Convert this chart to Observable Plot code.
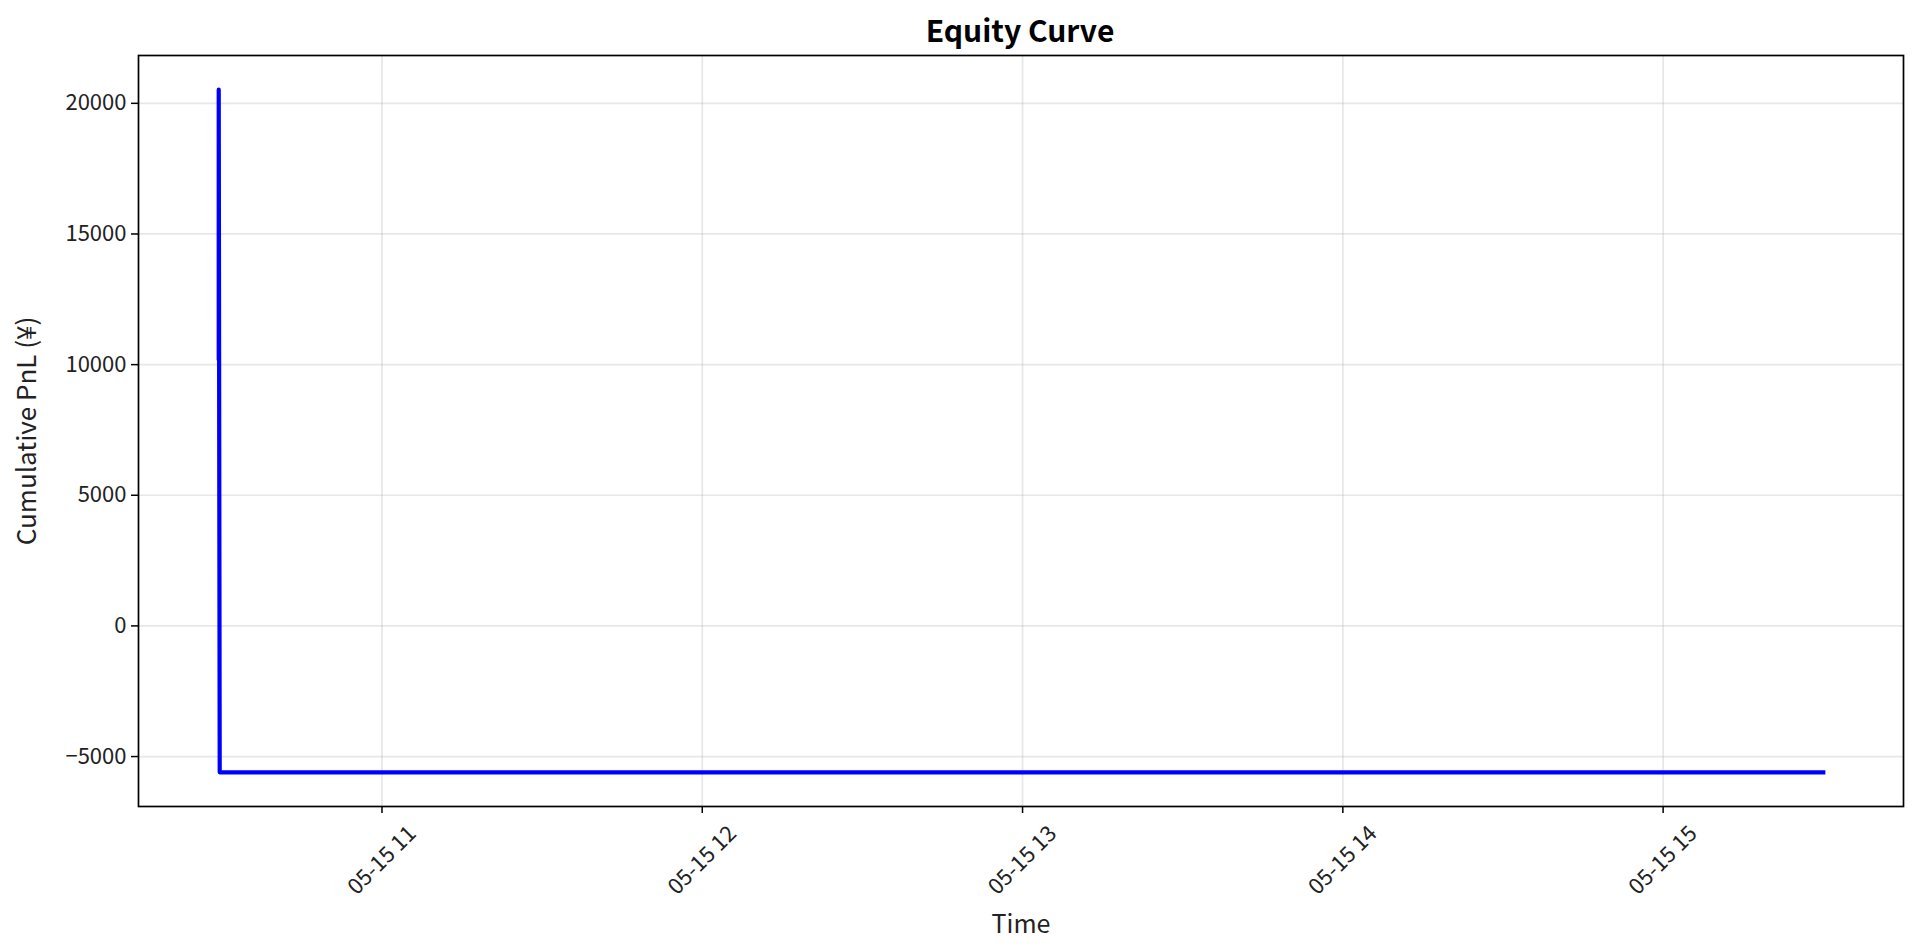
<!DOCTYPE html>
<html>
<head>
<meta charset="utf-8">
<script src="https://cdn.jsdelivr.net/npm/d3@7"></script>
<script src="https://cdn.jsdelivr.net/npm/@observablehq/plot@0.6"></script>
<style>
  html, body { margin: 0; padding: 0; background: #fff; }
  body { width: 1920px; height: 951px; overflow: hidden; font-family: "Noto Sans CJK JP", "Noto Sans", sans-serif; }
  #title { height: 50px; line-height: 58px; text-align: center; font-weight: bold; font-size: 30px; color: #000; padding-left: 120px; box-sizing: border-box; }
  #chart svg { display: block; }
</style>
</head>
<body>
<div id="title">Equity Curve</div>
<div id="chart"></div>
<script>
// Data
const times = [
  new Date(2024, 4, 15, 10, 29, 25),
  new Date(2024, 4, 15, 10, 29, 25),
  new Date(2024, 4, 15, 10, 29, 36),
  new Date(2024, 4, 15, 15, 30, 0)
];
const pnl = [10250, 20524, -5605, -5605];
const yTicks = [-5000, 0, 5000, 10000, 15000, 20000];
const xTickHours = [11, 12, 13, 14, 15];

const data = times.map((t, i) => ({time: t, pnl: pnl[i]}));
const xTicks = xTickHours.map(h => new Date(2024, 4, 15, h, 0, 0));

// matplotlib-style 5% margins
const [t0, t1] = d3.extent(times);
const tPad = (t1 - t0) * 0.05;
const [v0, v1] = d3.extent(pnl);
const vPad = (v1 - v0) * 0.05;

const fmtY = d => d < 0 ? "\u2212" + Math.abs(d) : String(d);
const fmtX = d3.timeFormat("%m-%d %H");

const chart = Plot.plot({
  width: 1920,
  height: 901,
  marginLeft: 138,
  marginRight: 17,
  marginTop: 5,
  marginBottom: 145,
  style: {fontFamily: "'Noto Sans CJK JP', 'Noto Sans', sans-serif", fontSize: "22px", color: "#222", background: "#fff"},
  x: {type: "time", domain: [new Date(+t0 - tPad), new Date(+t1 + tPad)]},
  y: {domain: [v0 - vPad, v1 + vPad]},
  marks: [
    Plot.gridX(xTicks, {stroke: "#b0b0b0", strokeOpacity: 0.3, strokeWidth: 1.7}),
    Plot.gridY(yTicks, {stroke: "#b0b0b0", strokeOpacity: 0.3, strokeWidth: 1.7}),
    Plot.axisY(yTicks, {
      tickFormat: fmtY, tickSize: 7, tickPadding: 5, strokeWidth: 1.5, stroke: "#000", fontSize: 22, label: null
    }),
    Plot.axisY({ticks: [], label: "Cumulative PnL (¥)", labelAnchor: "center", labelArrow: "none", labelOffset: 121, fontSize: 26}),
    Plot.axisX(xTicks, {tickSize: 7, strokeWidth: 1.5, stroke: "#000", tickFormat: () => "", label: null}),
    Plot.axisX(xTicks, {
      tickFormat: fmtX, tickSize: 0, fontSize: 22,
      tickRotate: -45, textAnchor: "middle", lineAnchor: "middle", dy: 42,
      label: null
    }),
    Plot.axisX({ticks: [], label: "Time", labelAnchor: "center", labelArrow: "none", labelOffset: 126, fontSize: 25}),
    Plot.line(data, {x: "time", y: "pnl", stroke: "#0000ff", strokeWidth: 4.2, strokeLinecap: "square", strokeLinejoin: "round"}),
    Plot.frame({stroke: "#000", strokeWidth: 1.7})
  ]
});
document.getElementById("chart").appendChild(chart);
</script>
</body>
</html>
